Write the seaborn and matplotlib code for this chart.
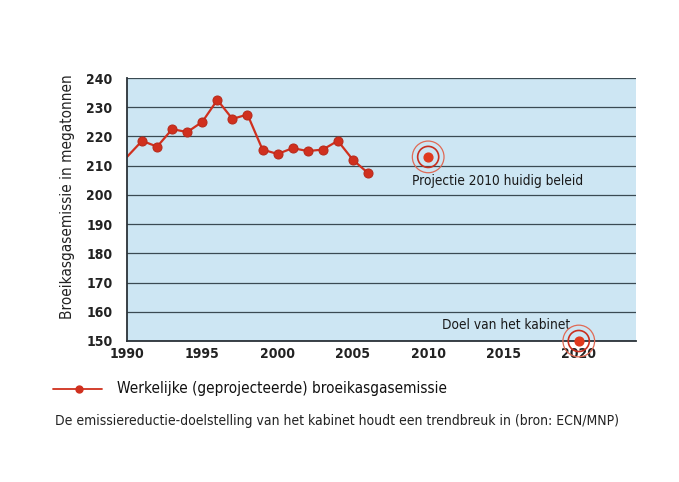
import matplotlib
matplotlib.use("Agg")
import matplotlib.pyplot as plt
import seaborn as sns
import pandas as pd

years = [1990, 1991, 1992, 1993, 1994, 1995, 1996, 1997, 1998, 1999,
         2000, 2001, 2002, 2003, 2004, 2005, 2006]
emissie = [213, 218.5, 216.5, 222.5, 221.5, 225, 232.5, 226, 227.5, 215.5,
           214, 216, 215, 215.5, 218.5, 212, 207.5]
doel_jaren = [2010, 2020]
doel_waarden = [213, 150]
doel_labels = ["Projectie 2010 huidig beleid", "Doel van het kabinet"]
yticks = list(range(150, 241, 10))
xticks = list(range(1990, 2021, 5))

sns.set_theme(style="white")
plt.rcParams['font.family'] = ['DejaVu Sans']
plt.rcParams['font.stretch'] = 'condensed'

df = pd.DataFrame({"jaar": years, "emissie": emissie})
red = "#d0301e"

fig = plt.figure(figsize=(6.79, 4.82), dpi=100)
ax = fig.add_axes([127 / 679, 1 - 341 / 482, (636 - 127) / 679, (341 - 78) / 482])
ax.set_facecolor("#cde6f3")

sns.lineplot(data=df, x="jaar", y="emissie", ax=ax, color=red, lw=1.6,
             marker="o", markersize=6.5, markeredgecolor="#b82a1a",
             markevery=list(range(1, len(years))))

# doelpunten als schietschijf
for x, y in zip(doel_jaren, doel_waarden):
    ax.scatter([x], [y], s=520, facecolors="none", edgecolors="#e06a55", lw=0.9, zorder=5, clip_on=False)
    ax.scatter([x], [y], s=230, facecolors="none", edgecolors="#c83020", lw=1.2, zorder=5, clip_on=False)
    ax.scatter([x], [y], s=40, color="#e03a1e", zorder=6, clip_on=False)

ax.text(2008.9, 204.6, doel_labels[0], fontsize=9.8, color="#1a1a1a", va="center")
ax.text(2010.9, 155.5, doel_labels[1], fontsize=9.8, color="#1a1a1a", va="center")

ax.set_xlim(1990, 2023.8)
ax.set_ylim(150, 240)
ax.set_yticks(yticks)
ax.set_xticks(xticks)
ax.grid(axis="y", color="#3a4a52", lw=0.9)
ax.set_axisbelow(True)
for s in ["top", "right"]:
    ax.spines[s].set_visible(False)
for s in ["left", "bottom"]:
    ax.spines[s].set_color("#2a3238")
    ax.spines[s].set_linewidth(1.3)
ax.tick_params(axis="both", length=5, width=1, color="#2a3238", direction="inout",
               labelsize=10, labelcolor="#222222")
ax.tick_params(axis="y", pad=8)
ax.tick_params(axis="x", pad=2)
for lbl in ax.get_xticklabels() + ax.get_yticklabels():
    lbl.set_fontweight("bold")
ax.set_xlabel("")
ax.set_ylabel("Broeikasgasemissie in megatonnen", fontsize=11, color="#222222")
ax.yaxis.set_label_coords(-0.102, 0.55)

# legenda en bijschrift
fig.lines.append(plt.Line2D([53 / 679, 102 / 679], [1 - 389 / 482] * 2, color=red, lw=1.3,
                            transform=fig.transFigure))
fig.lines.append(plt.Line2D([79 / 679], [1 - 389 / 482], color=red, marker="o", markersize=5,
                            transform=fig.transFigure))
fig.text(117 / 679, 1 - 389 / 482, "Werkelijke (geprojecteerde) broeikasgasemissie",
         fontsize=11, color="#111111", va="center")
fig.text(55 / 679, 1 - 421 / 482,
         "De emissiereductie-doelstelling van het kabinet houdt een trendbreuk in (bron: ECN/MNP)",
         fontsize=10, color="#222222", va="center")

fig.savefig("out.png", dpi=100, facecolor="white")
